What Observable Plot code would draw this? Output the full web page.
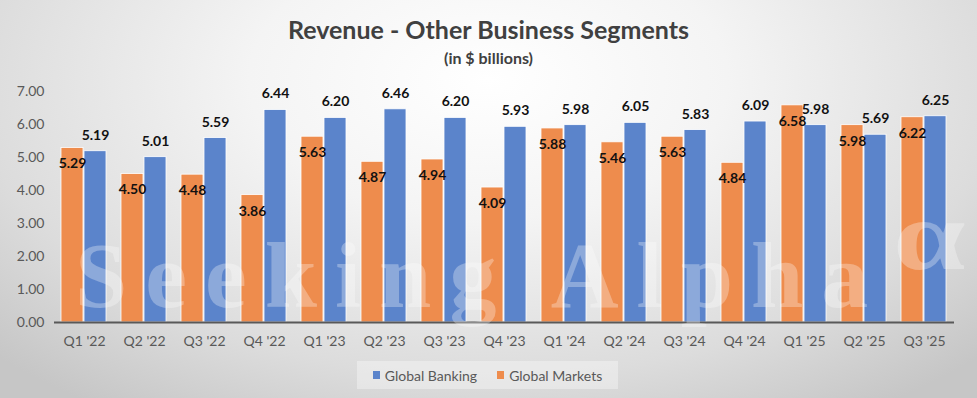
<!DOCTYPE html>
<html><head><meta charset="utf-8">
<script src="https://cdn.jsdelivr.net/npm/d3@7"></script>
<script src="https://cdn.jsdelivr.net/npm/@observablehq/plot@0.6"></script>
<style>
html,body{margin:0;padding:0;background:#fff;}
#wrap{position:relative;width:977px;height:398px;overflow:hidden;
  background:radial-gradient(ellipse 70% 100% at 50% 20%, #ffffff 0%, #f4f4f4 35%, #dcdcdc 75%, #c6c6c6 100%);
  font-family:Lato,"Open Sans",sans-serif;}
#title{position:absolute;left:0;width:977px;top:17px;text-align:center;font-size:25px;line-height:25px;font-weight:bold;color:#404040;}
#subtitle{position:absolute;left:0;width:977px;top:50px;text-align:center;font-size:16px;line-height:16px;font-weight:bold;color:#404040;}
#chart{position:absolute;left:0;top:75px;}
#legend{position:absolute;left:357px;top:361px;width:261px;height:28px;background:rgba(255,255,255,0.35);
  display:flex;align-items:center;justify-content:center;gap:20px;font-size:14px;color:#595959;}
#legend .item{display:flex;align-items:center;gap:5px;}
#legend .sw{width:7px;height:8px;display:inline-block;}
#wm{position:absolute;left:75px;top:228px;font-size:94px;line-height:94px;letter-spacing:18px;color:rgba(255,255,255,0.3);font-weight:bold;
  white-space:nowrap;pointer-events:none;font-family:"Liberation Serif","DejaVu Serif",serif;}
#wm2{position:absolute;left:893px;top:186px;font-size:100px;line-height:100px;color:rgba(255,255,255,0.3);font-weight:bold;
  white-space:nowrap;pointer-events:none;font-family:"Liberation Serif","DejaVu Serif",serif;transform-origin:left center;transform:scaleX(1.3);}
</style></head>
<body>
<div id="wrap">
  <div id="title">Revenue - Other Business Segments</div>
  <div id="subtitle">(in $ billions)</div>
  <div id="chart"></div>
  <div id="legend"></div>
  <div id="wm">Seeking Alpha</div>
  <div id="wm2">α</div>
</div>
<script>
const quarters = ["Q1 '22","Q2 '22","Q3 '22","Q4 '22","Q1 '23","Q2 '23","Q3 '23","Q4 '23","Q1 '24","Q2 '24","Q3 '24","Q4 '24","Q1 '25","Q2 '25","Q3 '25"];
const series = ["Global Markets","Global Banking"];
const colors = ["#EE8C4D","#5B84CB"];
const globalMarkets = [5.29,4.50,4.48,3.86,5.63,4.87,4.94,4.09,5.88,5.46,5.63,4.84,6.58,5.98,6.22];
const globalBanking = [5.19,5.01,5.59,6.44,6.20,6.46,6.20,5.93,5.98,6.05,5.83,6.09,5.98,5.69,6.25];
const yTicks = [0,1,2,3,4,5,6,7];
const legendOrder = ["Global Banking","Global Markets"];

const data = [];
quarters.forEach((q,i)=>{
  data.push({quarter:q, series:series[0], value:globalMarkets[i]});
  data.push({quarter:q, series:series[1], value:globalBanking[i]});
});

const plot = Plot.plot({
  width: 977, height: 280,
  marginLeft: 49, marginRight: 19, marginTop: 16, marginBottom: 33,
  style: {background: "transparent", fontFamily: "Lato, 'Open Sans', sans-serif", fontSize: "14px", color: "#595959", overflow: "visible"},
  fx: {domain: quarters, paddingInner: 0, paddingOuter: 0, axis: "bottom", label: null, tickSize: 0, tickPadding: 14},
  x: {domain: series, axis: null, paddingInner: 0.04, paddingOuter: 0.31},
  y: {domain: [0,7], ticks: yTicks, tickFormat: d3.format(".2f"), tickSize: 0, tickPadding: 10, label: null},
  color: {domain: series, range: colors},
  marks: [
    Plot.barY(data, {fx:"quarter", x:"series", y:"value", fill:"series", stroke:"white", strokeWidth:0.8}),
    Plot.ruleY([0], {stroke:"#595959", strokeWidth:2}),
    Plot.text(data.filter(d=>d.series===series[0]), {fx:"quarter", x:"series", y:"value", text:d=>d.value.toFixed(2), dy:16, fill:"#111", fontWeight:"bold", fontSize:14}),
    Plot.text(data.filter(d=>d.series===series[1]), {fx:"quarter", x:"series", y:"value", text:d=>d.value.toFixed(2), dy:-16, fill:"#111", fontWeight:"bold", fontSize:14})
  ]
});
document.getElementById("chart").appendChild(plot);

const legend = document.getElementById("legend");
legendOrder.forEach(s=>{
  const it = document.createElement("div"); it.className="item";
  const sw = document.createElement("span"); sw.className="sw"; sw.style.background = colors[series.indexOf(s)];
  const tx = document.createElement("span"); tx.textContent = s;
  it.appendChild(sw); it.appendChild(tx); legend.appendChild(it);
});
</script>
</body></html>
